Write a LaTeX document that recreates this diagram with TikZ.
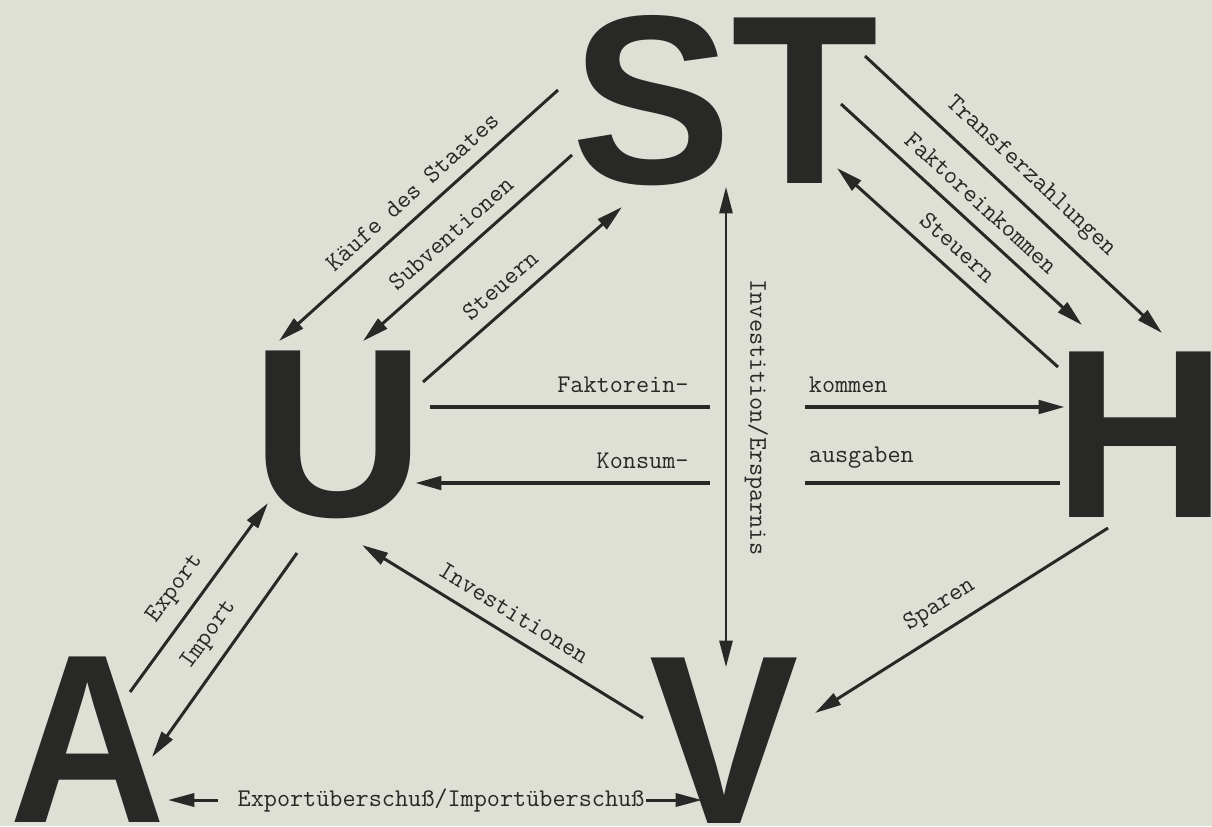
\documentclass[tikz,border=0pt]{standalone}
\usepackage{fontspec}
\usepackage{xcolor}
\usetikzlibrary{arrows.meta, positioning}
\newfontfamily\blocksans{Liberation Sans}
\definecolor{paper}{RGB}{222,224,214}
\definecolor{ink}{RGB}{40,40,38}

\begin{document}
\begin{tikzpicture}[
    x=0.02cm, y=-0.02cm,
    >={Triangle[length=15pt, width=7.5pt]},
    letter/.style={font=\blocksans\bfseries\fontsize{137}{137}\selectfont, text=ink, inner sep=0pt, anchor=base},
    lbl/.style={font=\ttfamily\fontsize{14.5}{17}\selectfont, text=ink, inner xsep=1pt, inner ysep=7pt},
    arrow/.style={->, line width=1.7pt, draw=ink},
    bar/.style={line width=1.7pt, draw=ink}
]

\fill[paper] (0,0) rectangle (1212,826);
\useasboundingbox (0,0) rectangle (1212,826);

% sectors
\node[letter] (st) at (725,183) {ST};
\node[letter] (u) at (338,516) {U};
\node[letter] (h) at (1140,517) {H};
\node[letter] (a) at (88,822) {\scalebox{0.9}[1]{A}};
\node[letter] (v) at (724,823) {\scalebox{0.93}[1]{V}};

% ends of the flows
\coordinate (kaS) at (558,90);
\coordinate (kaU) at (279,341);
\coordinate (suS) at (572,155);
\coordinate (suU) at (363,341);
\coordinate (stU) at (423,382);
\coordinate (stS) at (622,207);
\coordinate (trS) at (865,56);
\coordinate (trH) at (1162,333);
\coordinate (fkS) at (841,104);
\coordinate (fkH) at (1082,325);
\coordinate (shH) at (1058,367);
\coordinate (shS) at (837,168);
\coordinate (ivS) at (726,187);
\coordinate (ivV) at (726,667);
\coordinate (fa1) at (430,407);
\coordinate (fa2) at (710,407);
\coordinate (fa3) at (805,407);
\coordinate (fa4) at (1065,407);
\coordinate (ko1) at (415,483);
\coordinate (ko2) at (710,483);
\coordinate (ko3) at (805,483);
\coordinate (ko4) at (1060,483);
\coordinate (exA) at (130,692);
\coordinate (exU) at (268,503);
\coordinate (imA) at (152,757);
\coordinate (imU) at (297,553);
\coordinate (inU) at (362,545);
\coordinate (inV) at (643,718);
\coordinate (spH) at (1108,528);
\coordinate (spV) at (815,713);
\coordinate (baA) at (168,800);
\coordinate (baV) at (702,800);

% state
\draw[arrow, <-] (kaU) -- (kaS) node[lbl, pos=0.53, above, sloped] (kaufe) {Käufe des Staates};
\draw[arrow, <-] (suU) -- (suS) node[lbl, pos=0.49, above, sloped] (subv) {Subventionen};
\draw[arrow] (stU) -- (stS) node[lbl, pos=0.46, above, sloped] (steuU) {Steuern};
\draw[arrow] (trS) -- (trH) node[lbl, pos=0.5, above, sloped] (transf) {Transferzahlungen};
\draw[arrow] (fkS) -- (fkH) node[lbl, pos=0.52, above, sloped] (faktS) {Faktoreinkommen};
\draw[arrow, <-] (shS) -- (shH) node[lbl, pos=0.48, above, sloped] (steuH) {Steuern};
\draw[arrow, <->, line width=1.2pt] (ivS) -- (ivV) node[lbl, pos=0.48, rotate=-90, anchor=south, inner ysep=10pt] (invers) {Investition/Ersparnis};

% firms and households
\draw[bar, line width=2.4pt] (fa1) -- (fa2) node[lbl, at end, anchor=south east, xshift=-10pt] (faktL) {Faktorein-};
\draw[arrow, line width=2.4pt] (fa3) -- (fa4) node[lbl, at start, anchor=south west] (faktR) {kommen};
\draw[arrow, <-, line width=2.4pt] (ko1) -- (ko2) node[lbl, at end, anchor=south east, xshift=-10pt] (konsL) {Konsum-};
\draw[bar, line width=2.4pt] (ko3) -- (ko4) node[lbl, at start, anchor=south west] (konsR) {ausgaben};

% abroad and capital
\draw[arrow] (exA) -- (exU) node[lbl, pos=0.47, above, sloped] (expo) {Export};
\draw[arrow, <-] (imA) -- (imU) node[lbl, pos=0.53, above, sloped] (impo) {Import};
\draw[arrow, <-] (inU) -- (inV) node[lbl, pos=0.5, above, sloped] (inves) {Investitionen};
\draw[arrow, <-] (spV) -- (spH) node[lbl, pos=0.47, above, sloped] (spar) {Sparen};

\node[lbl, inner ysep=1pt] (bal) at (441,800) {Exportüberschuß/Importüberschuß};
\draw[arrow, shorten <=10pt] (bal.west) -- (baA);
\draw[arrow] (bal.east) -- (baV);

\end{tikzpicture}
\end{document}
